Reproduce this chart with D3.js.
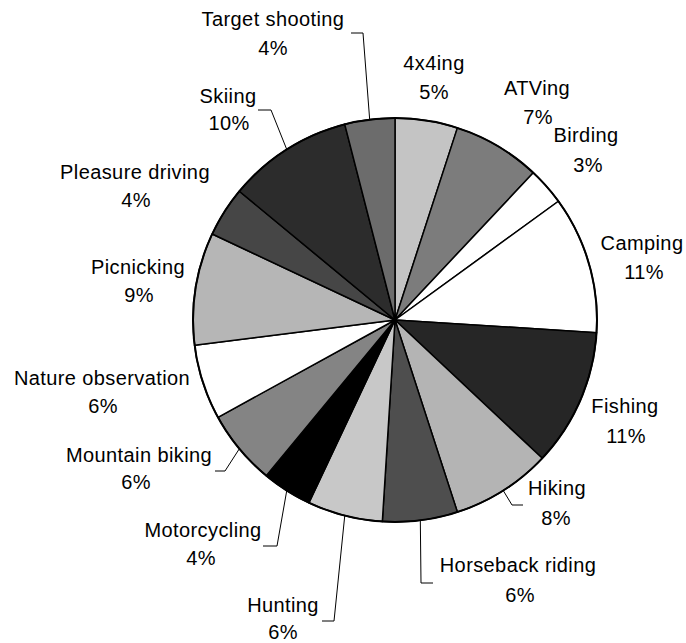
<!DOCTYPE html>
<html>
<head>
<meta charset="utf-8">
<script src="https://cdn.jsdelivr.net/npm/d3@7"></script>
<style>
  html, body { margin: 0; padding: 0; background: #fff; }
  svg { display: block; }
  text { font-family: "Liberation Sans", Arial, sans-serif; font-size: 20px; fill: #000; letter-spacing: 0.4px; }
</style>
</head>
<body>
<svg id="chart" width="686" height="643"></svg>
<script>
// Recreation activities, share of respondents (%), clockwise from 12 o'clock
const categories = [
  "4x4ing", "ATVing", "Birding", "Camping", "Fishing", "Hiking",
  "Horseback riding", "Hunting", "Motorcycling", "Mountain biking",
  "Nature observation", "Picnicking", "Pleasure driving", "Skiing",
  "Target shooting"
];
const shares = [5, 7, 3, 11, 11, 8, 6, 6, 4, 6, 6, 9, 4, 10, 4];

// Grey-scale fills, one per activity
const fills = [
  "#c4c4c4", "#7c7c7c", "#ffffff", "#ffffff", "#262626", "#b4b4b4",
  "#4e4e4e", "#c8c8c8", "#000000", "#848484",
  "#ffffff", "#b6b6b6", "#464646", "#2c2c2c", "#6c6c6c"
];

// Label placement: name line (x, y) and percent line (px, py)
const labelPos = [
  { x: 434, y: 70,  px: 434, py: 99 },
  { x: 537, y: 95,  px: 538, py: 124 },
  { x: 586, y: 142, px: 588, py: 172 },
  { x: 642, y: 250, px: 644, py: 279 },
  { x: 625, y: 413, px: 626, py: 443 },
  { x: 557, y: 495, px: 556, py: 525 },
  { x: 518, y: 572, px: 520, py: 602 },
  { x: 283, y: 612, px: 283, py: 639 },
  { x: 203, y: 537, px: 201, py: 565 },
  { x: 139, y: 462, px: 136, py: 489 },
  { x: 102, y: 385, px: 103, py: 413 },
  { x: 138, y: 274, px: 139, py: 302 },
  { x: 135, y: 179, px: 136, py: 207 },
  { x: 228, y: 103, px: 229, py: 130 },
  { x: 273, y: 26,  px: 273, py: 55 }
];

// Leader lines: elbow point and end point next to the label
const leaders = {
  "Target shooting":  { elbow: [363, 33],  end: [351, 33] },
  "Skiing":           { elbow: [271, 110], end: [258, 110] },
  "Mountain biking":  { elbow: [225, 471], end: [215, 471] },
  "Motorcycling":     { elbow: [277, 546], end: [263, 546] },
  "Hunting":          { elbow: [334, 621], end: [322, 621] },
  "Horseback riding": { elbow: [421, 583], end: [433, 583] },
  "Hiking":           { elbow: [512, 505], end: [523, 505] }
};

const data = categories.map((c, i) => ({ name: c, value: shares[i], fill: fills[i], pos: labelPos[i] }));

const cx = 395, cy = 320, radius = 202;
const svg = d3.select("#chart");
const g = svg.append("g").attr("transform", `translate(${cx},${cy})`);

const pie = d3.pie().value(d => d.value).sort(null);
const arc = d3.arc().innerRadius(0).outerRadius(radius);
const arcs = pie(data);

g.selectAll("path.slice")
  .data(arcs)
  .join("path")
  .attr("class", "slice")
  .attr("d", arc)
  .attr("fill", d => d.data.fill)
  .attr("stroke", "#000")
  .attr("stroke-width", 1.5)
  .attr("stroke-linejoin", "round");

// Outer rim
g.append("circle")
  .attr("r", radius)
  .attr("fill", "none")
  .attr("stroke", "#000")
  .attr("stroke-width", 2);

// Leader lines from slice mid-angle on the rim
arcs.forEach(a => {
  const L = leaders[a.data.name];
  if (!L) return;
  const mid = (a.startAngle + a.endAngle) / 2;
  const ax = cx + radius * Math.sin(mid);
  const ay = cy - radius * Math.cos(mid);
  svg.append("path")
    .attr("d", d3.line()([[ax, ay], L.elbow, L.end]))
    .attr("fill", "none")
    .attr("stroke", "#000")
    .attr("stroke-width", 1);
});

// Labels
const labels = svg.selectAll("g.label").data(arcs).join("g").attr("class", "label");
labels.append("text")
  .attr("x", d => d.data.pos.x)
  .attr("y", d => d.data.pos.y)
  .attr("text-anchor", "middle")
  .text(d => d.data.name);
labels.append("text")
  .attr("x", d => d.data.pos.px)
  .attr("y", d => d.data.pos.py)
  .attr("text-anchor", "middle")
  .text(d => d.data.value + "%");
</script>
</body>
</html>
